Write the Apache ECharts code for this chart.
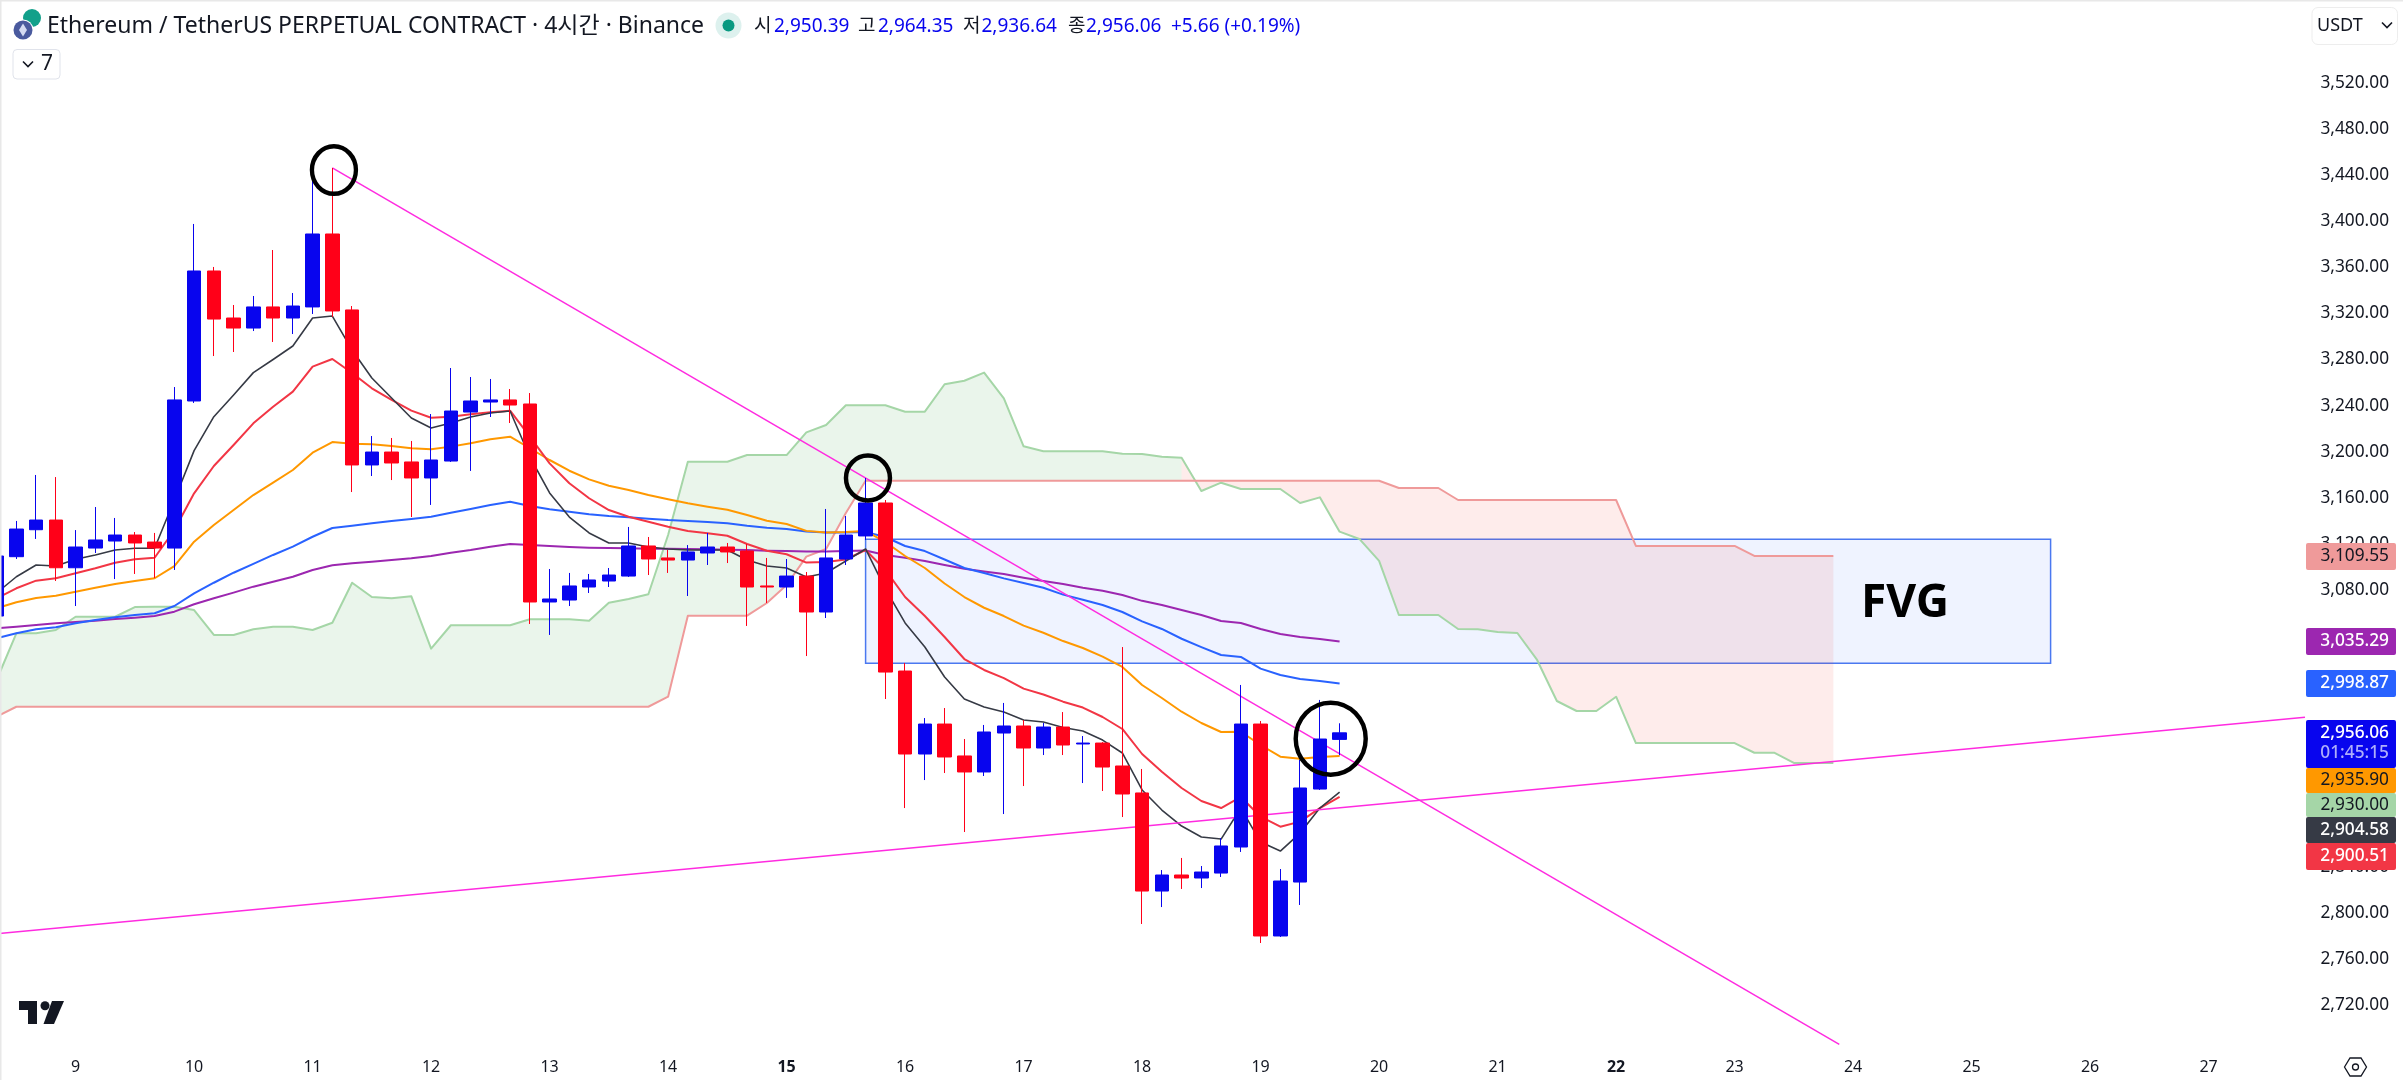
<!DOCTYPE html>
<html>
<head>
<meta charset="utf-8">
<title>ETHUSDT 4h</title>
<style>
  html, body { margin: 0; padding: 0; background: #fff; overflow: hidden; }
  /* the first candle is cut by the left edge, so the canvas starts a bit off screen */
  #chart { width: 2423px; height: 1080px; margin-left: -20px; }
</style>
<script src="https://cdn.jsdelivr.net/npm/echarts@6/dist/echarts.min.js"></script>
</head>
<body>
<div id="chart"></div>
<script>
// Day labels on the time axis, first one sits on candle 4, then every 6 candles
const dayLabels = ['9','10','11','12','13','14','15','16','17','18','19','20','21','22','23','24','25','26','27'];

// [open, close, low, high]
const candles = [
  [3057.4,3109.5,3050,3115],[3108.9,3132.9,3106.9,3139.9],[3132.3,3140.7,3124.3,3179.8],[3140.7,3099.3,3087.8,3178],
  [3099.3,3117.3,3066.1,3132],[3116.4,3123.4,3112.1,3152],[3122.5,3127.7,3089.5,3142.5],[3127.7,3120.8,3093.9,3130.3],
  [3121.6,3116.4,3090.4,3129.5],[3116.4,3244.9,3097.4,3256.1],[3244,3356.8,3242.3,3397.6],[3356.8,3315.1,3283,3360.3],
  [3316,3307.3,3286.5,3327.3],[3307.3,3325.6,3304.7,3335.1],[3325.6,3316,3295.2,3375],[3316,3326.4,3302.1,3337.7],
  [3325.6,3388.9,3319.5,3442.7],[3388.9,3322.1,3316.9,3446.2],[3323,3188.5,3165,3326.4],[3188.5,3199.7,3178.9,3213.6],
  [3199.7,3190.2,3175.4,3211.9],[3191.1,3177.2,3143.3,3209.3],[3177.2,3192.8,3153.8,3232.7],[3191.9,3235.3,3191.1,3272.6],
  [3234.4,3244,3183.3,3264.8],[3243.1,3244.9,3230.1,3263.1],[3244.9,3240.5,3224.9,3254.4],[3241.4,3069.6,3050.5,3250.9],
  [3069.6,3072.2,3041,3098.2],[3071.3,3083.5,3066.1,3094.8],[3082.6,3088.7,3077.4,3093.9],[3087.8,3093,3082.6,3099.1],
  [3092.1,3118.2,3091.3,3134.7],[3118.2,3106.9,3093,3126],[3107.8,3106,3094.8,3114.7],[3106,3113,3074.8,3119],
  [3112.1,3117.3,3101.7,3129.5],[3117.3,3113,3103.4,3120.8],[3113.8,3082.6,3048.8,3119.9],[3083.5,3082.6,3068.7,3107.8],
  [3082.6,3092.1,3073.1,3106.9],[3092.1,3060.9,3022.7,3095.6],[3060.9,3107.8,3055.7,3150.3],[3106.9,3127.7,3101.7,3144.2],
  [3126.9,3155.5,3123.4,3177.2],[3155.5,3008.8,2985.4,3158.1],[3009.7,2937.7,2890.8,3016.7],[2937.7,2963.7,2915.1,2968.9],
  [2963.7,2935.1,2921.2,2977.6],[2936,2922.1,2870,2950.7],[2922.1,2956.8,2918.6,2962.9],[2955.9,2962,2885.6,2982],
  [2962,2942.9,2909.9,2967.2],[2942.9,2961.1,2936.8,2964.6],[2961.1,2945.5,2936.8,2974.1],[2946.4,2947.2,2912.5,2953.3],
  [2947.2,2926.4,2905.6,2948],[2927.3,2903,2883,3030.5],[2903.9,2818.8,2790.2,2924.7],[2818.8,2832.7,2804.9,2837],
  [2832.7,2830.1,2820.6,2847.5],[2830.1,2835.3,2821.4,2840.5],[2834.4,2857.9,2831,2864.8],[2857,2963.7,2852.7,2997.6],
  [2963.7,2779.8,2773.7,2966.3],[2779.8,2827.5,2778.9,2837.9],[2826.6,2908.2,2806.7,2932.5],[2907.3,2950.7,2906.5,2984.6],
  [2950.39,2956.06,2936.64,2964.35]
];

// Moving averages
const maBlack = [3077.4,3091.5,3101.7,3100.8,3106.6,3110.4,3114.7,3116.2,3116.2,3158.1,3200.9,3230.4,3249.2,3268.6,3280,3291.7,3316,3317.7,3288.2,3264,3246.6,3229.2,3220.6,3224.9,3230.1,3233.6,3235.3,3195.4,3164.2,3143.3,3129.5,3120.8,3120.8,3117.3,3115.6,3114.7,3114.7,3114.7,3106,3100.8,3099.1,3091.3,3094.8,3105.2,3115.6,3080.9,3051.4,3030.5,3004.5,2985.4,2978.5,2974.1,2967.2,2965.5,2960.7,2957.7,2949.8,2938.6,2906.5,2889.1,2875.2,2865.7,2863.9,2890.8,2861.3,2853.5,2869.1,2890.8,2904.58];
const maRed = [3072.8,3081.5,3088.1,3090.2,3094.5,3098.8,3103.7,3106.6,3108,3132.1,3163.9,3187.6,3205.8,3224.6,3239,3252.1,3273.8,3280.4,3268.3,3255,3244.9,3235.6,3229.5,3230.4,3232.4,3234.2,3235.6,3213,3189.9,3172.6,3159.6,3149.4,3143.6,3139.3,3134.9,3131.2,3129.2,3127.1,3119.9,3114.1,3111,3103.8,3104.3,3106.5,3114.7,3097.4,3073.9,3057.4,3039.2,3020.1,3010.6,3003.6,2994.4,2989.3,2983.1,2978,2969.8,2959.4,2937.7,2922.3,2908.2,2896.9,2890.8,2900.4,2883.3,2874.6,2879,2890.8,2900.51];
const maOrange = [3064.1,3069.3,3073.1,3075.1,3078.5,3082,3085.2,3087.8,3090.2,3100.8,3121.9,3136.4,3149.4,3162.4,3173.1,3184.1,3199.1,3208.4,3206.9,3206.4,3205,3203,3202.1,3204.4,3207.3,3210.8,3213,3203,3192.8,3183.5,3176,3170.5,3166.8,3162.4,3158.7,3155.2,3152.3,3149.7,3145.1,3140.1,3137.3,3131.3,3129.8,3130.3,3131.2,3121.6,3109.5,3099.1,3085.6,3073.9,3064.6,3057.4,3049.1,3042.9,3035.7,3029.7,3022.2,3013.2,2997.6,2986.3,2974.4,2964.6,2956.8,2957,2945.5,2935.4,2933.6,2935.1,2935.9];
const maBlue = [3038.1,3042.4,3045.9,3047.6,3051.1,3054,3056.3,3058.3,3059.8,3066.1,3077.1,3086.3,3095,3102.6,3110.4,3117.6,3126.2,3133.8,3135.8,3137.9,3139.9,3141.6,3143.6,3147.1,3150.3,3153.8,3156.6,3152.9,3150,3147.9,3145.7,3144.2,3143.1,3141.9,3140.7,3139.9,3139,3137.9,3135.8,3134.1,3132.9,3130.7,3129.8,3129.8,3130.3,3126,3118.2,3113.8,3106.5,3099.1,3094.8,3090.1,3086.1,3082,3076,3071.5,3067,3060.9,3052.8,3046.2,3037.7,3030.5,3023.6,3021.9,3011.8,3006.2,3002.8,3001,2998.87];
const maPurple = [3046.8,3048.2,3049.6,3051.1,3052.2,3053.4,3054.8,3056,3057.4,3061.2,3067.6,3072.8,3077.7,3082.9,3087.2,3091.5,3097.4,3101.4,3103.2,3104.6,3106,3107.5,3109.5,3112.4,3114.7,3117.6,3119.9,3119,3118.2,3117.3,3116.7,3116.4,3116.2,3115.8,3115.8,3115.6,3115.3,3115,3114.7,3114.1,3113.8,3113.4,3113.4,3113.8,3114.3,3110.4,3108,3105.2,3101.7,3098.4,3096.1,3093.9,3090.7,3087.8,3085.2,3082,3079.3,3075.7,3070.6,3067,3062.6,3058.3,3053.1,3051.4,3046.2,3041.8,3039.2,3037.5,3035.29];

// Ichimoku cloud edges, they run 25 candles past the last price
const spanA = [3001.9,3042.4,3042.4,3045.3,3056.8,3056.8,3056.8,3065.2,3065.5,3065.5,3062.6,3041,3041,3045.9,3048.2,3048.2,3045.3,3051.6,3086.3,3073.9,3072.8,3074.5,3029.1,3049.4,3049.4,3049.4,3049.4,3054.6,3054.6,3054.6,3053.4,3069,3072.2,3076.3,3127.7,3191.3,3191.3,3191.3,3197.1,3197.1,3197.1,3216.8,3223.2,3240.3,3240.3,3240.3,3234.7,3234.7,3258.5,3261.6,3268.6,3246.3,3204.7,3200.4,3200.4,3200.4,3200.4,3198.3,3198,3195.7,3194.8,3165.9,3173.1,3167.6,3167.6,3167.6,3155.5,3160.4,3130.6,3124.3,3105.2,3058.3,3058.3,3058.3,3046.2,3046,3043.6,3042.7,3019.3,2983.7,2975,2975,2987.4,2947.2,2947.2,2947.2,2947.2,2947.2,2947.2,2938.8,2938.8,2930,2930,2930];
const spanB = [2970.1,2978.7,2978.7,2978.7,2978.7,2978.7,2978.7,2978.7,2978.7,2978.7,2978.7,2978.7,2978.7,2978.7,2978.7,2978.7,2978.7,2978.7,2978.7,2978.7,2978.7,2978.7,2978.7,2978.7,2978.7,2978.7,2978.7,2978.7,2978.7,2978.7,2978.7,2978.7,2978.7,2978.7,2987.4,3057.7,3057.7,3057.7,3057.7,3068.7,3084.3,3108.9,3115.6,3146.8,3174.8,3174.8,3174.8,3174.8,3174.8,3174.8,3174.8,3174.8,3174.8,3174.8,3174.8,3174.8,3174.8,3174.8,3174.8,3174.8,3174.8,3174.8,3174.8,3174.8,3174.8,3174.8,3174.8,3174.8,3174.8,3174.8,3174.8,3168.5,3168.5,3168.5,3158.1,3158.1,3158.1,3158.1,3158.1,3158.1,3158.1,3158.1,3158.1,3118.2,3118.2,3118.2,3118.2,3118.2,3118.2,3109.55,3109.55,3109.55,3109.55,3109.55];

// Drawings: [candle index, price]
const trendDown = [[17, 3446.2], [93.3, 2685.8]];
const trendUp = [[0, 2781.8], [116.88, 2969.5]];
const fvgBox = [[44, 3124], [104, 3016.4]];
const ringCenters = [[17.08, 3444.4], [44.12, 3177.2], [67.55, 2951]];
const ringSizes = [[44, 47.5], [44, 45], [70, 72]];

// Right hand price tags
const tagTexts = ['3,109.55', '3,035.29', '2,998.87', '2,956.06', '2,935.90', '2,930.00', '2,904.58', '2,900.51'];
const tagTops = [543, 628, 670, 720, 768, 793, 817, 843];
const tagBottoms = [570, 655, 697, 768, 793, 817, 843, 870];
const tagFills = ['#EF9A9A', '#9C27B0', '#2962FF', '#0805EE', '#FF9800', '#A5D6A7', '#363A45', '#F23645'];
const tagInks = ['#131722', '#fff', '#fff', '#fff', '#131722', '#131722', '#fff', '#fff'];

// Header
const titleText = 'Ethereum / TetherUS PERPETUAL CONTRACT · 4시간 · Binance';
const ohlcLabels = ['시', '고', '저', '종'];
const ohlcValues = ['2,950.39', '2,964.35', '2,936.64', '2,956.06'];
const changeText = '+5.66 (+0.19%)';

const upColor = '#0805EE';
const downColor = '#FF0018';
const fontName = '"Noto Sans", "Noto Sans CJK KR", sans-serif';
const candleCount = 118;
const canvasOffset = 20;

const categories = [];
for (let i = 0; i < candleCount; i++) {
  const day = (i - 4) / 6;
  categories.push(Number.isInteger(day) && dayLabels[day] ? dayLabels[day] : '');
}

function lineSeries(name, data, color, width) {
  return {
    name: name,
    type: 'line',
    data: data,
    showSymbol: false,
    silent: true,
    z: 3,
    lineStyle: { color: color, width: width, join: 'round' }
  };
}

function trendSeries(data) {
  return {
    type: 'line',
    xAxisIndex: 1,
    data: data,
    showSymbol: false,
    silent: true,
    z: 4,
    lineStyle: { color: '#FF2BE0', width: 1.5 }
  };
}

// Cloud is one green polygon and one pink polygon, split where span A drops under span B
function renderCloud(params, api) {
  let split = spanA.length - 1;
  for (let i = 1; i < spanA.length; i++) {
    if (spanA[i] < spanB[i]) {
      split = i - 1;
      break;
    }
  }
  const band = (from, to) => {
    const points = [];
    for (let i = from; i <= to; i++) points.push(api.coord([i, spanA[i]]));
    for (let i = to; i >= from; i--) points.push(api.coord([i, spanB[i]]));
    return points;
  };
  return {
    type: 'group',
    children: [
      { type: 'polygon', shape: { points: band(0, split) }, style: { fill: 'rgba(67,160,71,0.11)' } },
      { type: 'polygon', shape: { points: band(split, spanA.length - 1) }, style: { fill: 'rgba(244,67,54,0.1)' } }
    ]
  };
}

function renderFvg(params, api) {
  const a = api.coord(fvgBox[0]);
  const b = api.coord(fvgBox[1]);
  return {
    type: 'rect',
    shape: { x: a[0], y: a[1], width: b[0] - a[0], height: b[1] - a[1] },
    style: { fill: 'rgba(41,98,255,0.075)', stroke: '#4A78F0', lineWidth: 1.5 }
  };
}

function text(x, y, str, size, color, opts) {
  return {
    type: 'text',
    x: x + canvasOffset,
    y: y,
    z: 100,
    silent: true,
    style: Object.assign({
      text: str,
      fontSize: size,
      fontFamily: fontName,
      fill: color,
      align: 'left',
      verticalAlign: 'middle'
    }, opts || {})
  };
}

function rect(x, y, w, h, r, style) {
  return { type: 'rect', z: 99, silent: true, x: canvasOffset, shape: { x: x, y: y, width: w, height: h, r: r }, style: style };
}

function dot(cx, cy, r, style, z) {
  return { type: 'circle', z: z || 100, silent: true, x: canvasOffset, shape: { cx: cx, cy: cy, r: r }, style: style };
}

function poly(points, style) {
  return { type: 'polygon', z: 100, silent: true, x: canvasOffset, shape: { points: points }, style: style };
}

function chevron(x, y) {
  return {
    type: 'polyline',
    z: 100,
    silent: true,
    x: canvasOffset,
    shape: { points: [[x - 5, y - 2.5], [x, y + 2.5], [x + 5, y - 2.5]] },
    style: { stroke: '#131722', lineWidth: 1.6, fill: null }
  };
}

function buildGraphics() {
  const items = [];

  // frame
  items.push(rect(0, 0, 2403, 1.5, 0, { fill: '#E8E8E8' }));
  items.push(rect(0, 0, 1.5, 1080, 0, { fill: '#E8E8E8' }));

  // coin icons
  items.push(dot(32, 18, 9, { fill: '#12A08A' }, 99));
  items.push(dot(23, 30, 10.5, { fill: '#fff' }, 99));
  items.push(dot(23, 30, 9.5, { fill: '#4A5A9E' }, 99));
  items.push(poly([[23, 23.5], [27, 30], [23, 36.5], [19, 30]], { fill: '#D5DBF2' }));

  items.push(text(47, 26, titleText, 23, '#131722'));

  // market status dot
  items.push(dot(728.5, 25.5, 13, { fill: '#DDF1EE' }, 99));
  items.push(dot(728.5, 25.5, 6, { fill: '#089981' }));

  // OHLC row
  const labelX = [754, 858, 963, 1068];
  const valueX = [774, 878, 981.5, 1086];
  ohlcLabels.forEach((label, i) => {
    items.push(text(labelX[i], 27, label, 19, '#131722'));
    items.push(text(valueX[i], 27, ohlcValues[i], 19, upColor));
  });
  items.push(text(1171, 27, changeText, 19, upColor));

  // collapsed indicators button
  items.push(rect(13, 49.5, 47, 29.5, 4, { fill: '#fff', stroke: '#E0E3EB', lineWidth: 1 }));
  items.push(chevron(28, 64));
  items.push(text(41, 64, '7', 21, '#131722'));

  // currency button
  items.push(rect(2312, 7.5, 85.5, 37, 6, { fill: '#fff', stroke: '#EDEDED', lineWidth: 1 }));
  items.push(text(2317, 25.5, 'USDT', 18, '#131722'));
  items.push(chevron(2387, 25));

  // price tags
  tagTexts.forEach((label, i) => {
    items.push(rect(2306, tagTops[i], 90, tagBottoms[i] - tagTops[i], 2, { fill: tagFills[i] }));
    const dark = tagInks[i] === '#fff';
    const y = i === 3 ? 733 : (tagTops[i] + tagBottoms[i]) / 2;
    items.push(text(2389, y, label, 17.3, tagInks[i], { align: 'right', fontWeight: dark ? 500 : 400 }));
  });
  items.push(text(2389, 753.5, '01:45:15', 17.3, '#AEAEFA', { align: 'right', fontWeight: 500 }));

  // FVG note
  items.push(text(1861, 604, 'FVG', 46, '#000', { fontWeight: 700 }));

  // TradingView mark
  const logoInk = '#131722';
  items.push(poly([[19, 1001], [37, 1001], [37, 1024], [28, 1024], [28, 1010], [19, 1010]], { fill: logoInk }));
  items.push(dot(45, 1005.7, 4.5, { fill: logoInk }));
  items.push(poly([[52, 1001], [64, 1001], [54, 1024], [43.5, 1024]], { fill: logoInk }));

  // settings hexagon
  const sx = 2355.5;
  const sy = 1067;
  items.push(poly(
    [[sx - 11, sy], [sx - 5.5, sy - 9], [sx + 5.5, sy - 9], [sx + 11, sy], [sx + 5.5, sy + 9], [sx - 5.5, sy + 9]],
    { fill: '#fff', stroke: '#131722', lineWidth: 1.3 }
  ));
  items.push(dot(sx, sy, 3, { fill: '#fff', stroke: '#131722', lineWidth: 1.3 }));

  return items;
}

const option = {
  animation: false,
  backgroundColor: '#fff',
  textStyle: { fontFamily: fontName },
  grid: { left: 6.725, top: 36.8, width: 2330.5, height: 1014.2, containLabel: false },
  xAxis: [
    {
      type: 'category',
      data: categories,
      boundaryGap: true,
      axisLine: { show: false },
      axisTick: { show: false },
      splitLine: { show: false },
      axisLabel: {
        interval: 0,
        margin: 8,
        fontSize: 16,
        color: '#131722',
        formatter: (value) => (value === '15' || value === '22' ? '{b|' + value + '}' : value),
        rich: { b: { fontSize: 16, fontWeight: 700, color: '#131722', fontFamily: fontName } }
      }
    },
    { type: 'value', min: -0.5, max: candleCount - 0.5, show: false }
  ],
  yAxis: {
    type: 'value',
    position: 'right',
    min: 2680,
    max: 3560,
    interval: 40,
    axisLine: { show: false },
    axisTick: { show: false },
    splitLine: { show: false },
    axisLabel: {
      align: 'right',
      margin: 71.8,
      fontSize: 17.3,
      color: '#131722',
      showMinLabel: false,
      showMaxLabel: false,
      formatter: (value) => value.toLocaleString('en-US', { minimumFractionDigits: 2, maximumFractionDigits: 2 })
    }
  },
  series: [
    { type: 'custom', xAxisIndex: 1, renderItem: renderFvg, data: [fvgBox[0]], clip: false, silent: true, z: 1 },
    { type: 'custom', xAxisIndex: 1, renderItem: renderCloud, data: [[0, spanA[0]]], clip: false, silent: true, z: 1 },
    lineSeries('Span A', spanA, '#A5D6A7', 2),
    lineSeries('Span B', spanB, '#EF9A9A', 2),
    lineSeries('MA purple', maPurple, '#9C27B0', 2),
    lineSeries('MA blue', maBlue, '#2962FF', 2),
    lineSeries('MA orange', maOrange, '#FF9800', 2),
    lineSeries('MA red', maRed, '#F23645', 2),
    lineSeries('MA black', maBlack, '#363A45', 1.6),
    trendSeries(trendDown),
    trendSeries(trendUp),
    {
      type: 'candlestick',
      data: candles,
      barWidth: 14,
      silent: true,
      z: 5,
      itemStyle: { color: upColor, color0: downColor, borderColor: upColor, borderColor0: downColor, borderWidth: 1 }
    },
    {
      type: 'scatter',
      xAxisIndex: 1,
      data: ringCenters,
      symbolSize: (value, params) => ringSizes[params.dataIndex],
      silent: true,
      z: 6,
      itemStyle: { color: 'rgba(0,0,0,0)', borderColor: '#000', borderWidth: 4.5, opacity: 1 }
    }
  ],
  graphic: buildGraphics()
};

const chart = echarts.init(document.getElementById('chart'));
chart.setOption(option);
</script>
</body>
</html>
